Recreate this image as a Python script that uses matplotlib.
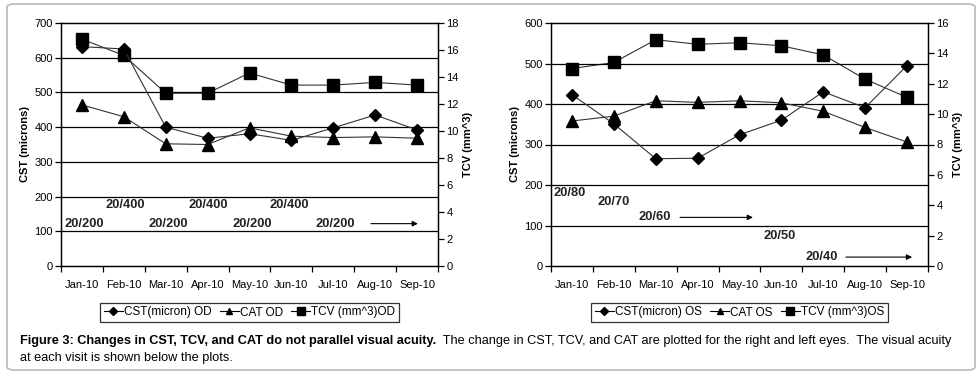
import matplotlib
matplotlib.use("Agg")
import matplotlib.pyplot as plt
from matplotlib.patches import FancyBboxPatch
from matplotlib.lines import Line2D

plt.rcParams['font.family'] = ['Liberation Sans', 'DejaVu Sans']

########################################
# ----> Data
########################################
months = ["Jan-10", "Feb-10", "Mar-10", "Apr-10", "May-10", "Jun-10", "Jul-10", "Aug-10", "Sep-10"]

# right eye (OD)
cst_od = [632, 625, 400, 368, 381, 362, 398, 435, 392]
cat_od = [464, 430, 352, 350, 398, 374, 370, 372, 368]
tcv_od = [16.8, 15.6, 12.8, 12.8, 14.3, 13.4, 13.4, 13.6, 13.4]

# left eye (OS)
cst_os = [423, 351, 265, 266, 324, 360, 430, 391, 495]
cat_os = [358, 370, 408, 404, 408, 403, 382, 342, 306]
tcv_os = [13.0, 13.4, 14.9, 14.6, 14.7, 14.5, 13.9, 12.3, 11.1]

# visual acuity labels shown below the plots
va_od = ["20/200", "20/400", "20/200", "20/400", "20/200", "20/400", "20/200"]
va_os = ["20/80", "20/70", "20/60", "20/50", "20/40"]

# label placement (category index, CST value) and arrows (start, end, CST value)
va_od_pos = [(0.06, 122), (1.04, 175), (2.07, 122), (3.02, 175), (4.06, 122), (4.95, 175), (6.05, 122)]
va_od_arrows = [(6.9, 8.02, 122)]
va_os_pos = [(-0.05, 181), (1.0, 158), (1.97, 120), (4.95, 73), (5.96, 22)]
va_os_arrows = [(2.58, 4.32, 120), (6.54, 8.12, 22)]

W, H = 980, 376
fig = plt.figure(figsize=(W / 100, H / 100), dpi=100)
fig.patch.set_facecolor("white")

# rounded frame round the whole figure
frame = FancyBboxPatch((7 / W, 1 - 370 / H), 968 / W, 366 / H,
                       boxstyle="round,pad=0,rounding_size=0.008",
                       transform=fig.transFigure, facecolor="none",
                       edgecolor="#b8b8b8", linewidth=1.2)
fig.patches.append(frame)

line_args = {"color": "#333333", "linewidth": 0.8}


def draw_chart(left, cst, cat, tcv, eye, ymax, tmax, va, va_pos, va_arrows):
	ax = fig.add_axes([left / W, 1 - 266 / H, 377 / W, 243 / H])
	ax2 = ax.twinx()
	x = list(range(len(months)))

	ax.plot(x, cst, marker="D", markersize=6.5, mfc="black", mec="black", zorder=5, **line_args)
	ax.plot(x, cat, marker="^", markersize=8.5, mfc="black", mec="black", zorder=5, **line_args)
	ax2.plot(x, tcv, marker="s", markersize=9, mfc="black", mec="black", zorder=5, **line_args)

	ax.set_xlim(-0.5, len(months) - 0.5)
	ax.set_ylim(0, ymax)
	ax2.set_ylim(0, tmax)
	ax.set_yticks(range(0, ymax + 1, 100))
	ax2.set_yticks(range(0, tmax + 1, 2))

	for yv in range(100, ymax, 100):
		ax.axhline(yv, color="black", linewidth=0.9, zorder=1)

	# boundaries carry the ticks, centers carry the labels
	ax.set_xticks([i - 0.5 for i in range(len(months) + 1)])
	ax.set_xticklabels([])
	ax.set_xticks(x, minor=True)
	ax.set_xticklabels(months, minor=True)
	ax.tick_params(axis="x", which="major", length=4, width=0.9, direction="out")
	ax.tick_params(axis="x", which="minor", length=0, pad=10, labelsize=8)
	ax.tick_params(axis="y", length=4, width=0.9, labelsize=8, pad=2)
	ax2.tick_params(axis="y", length=4, width=0.9, labelsize=8, pad=2)

	for a in (ax, ax2):
		for s in a.spines.values():
			s.set_linewidth(0.9)

	ax.set_ylabel("CST (microns)", fontsize=8, fontweight="bold", labelpad=3)
	ax2.set_ylabel("TCV (mm^3)", fontsize=8, fontweight="bold", labelpad=3)

	for label, (px, py) in zip(va, va_pos):
		ax.text(px, py, label, ha="center", va="center", fontsize=9.3, fontweight="bold", color="#222222")
	for (x0, x1, py) in va_arrows:
		ax.annotate("", xy=(x1, py), xytext=(x0, py),
		            arrowprops={"arrowstyle": "-|>", "color": "black", "lw": 0.8,
		                        "mutation_scale": 8, "shrinkA": 0, "shrinkB": 0})

	ax.set_zorder(ax2.get_zorder() + 1)
	ax.patch.set_visible(False)

	handles = [
		Line2D([], [], color="black", lw=0.8, marker="D", markersize=4, mfc="black"),
		Line2D([], [], color="black", lw=0.8, marker="^", markersize=5, mfc="black"),
		Line2D([], [], color="black", lw=0.8, marker="s", markersize=5.5, mfc="black"),
	]
	labels = ["CST(micron) " + eye, "CAT " + eye, "TCV (mm^3)" + eye]
	cx = (left + 36 + 305 / 2) / W
	leg = fig.legend(handles, labels, loc="center", bbox_to_anchor=(cx, 1 - 312.5 / H),
	                 ncol=3, fontsize=8.5, frameon=True, fancybox=False, edgecolor="black",
	                 handlelength=1.6, handletextpad=0.1, columnspacing=0.7,
	                 borderpad=0.3, borderaxespad=0)
	leg.get_frame().set_linewidth(0.9)
	return ax


draw_chart(61, cst_od, cat_od, tcv_od, "OD", 700, 18, va_od, va_od_pos, va_od_arrows)
draw_chart(551, cst_os, cat_os, tcv_os, "OS", 600, 16, va_os, va_os_pos, va_os_arrows)

########################################
# ----> Caption (bold start, then normal)
########################################
cap_size = 9.2
bold_part = "Figure 3: Changes in CST, TCV, and CAT do not parallel visual acuity."
rest_part = "  The change in CST, TCV, and CAT are plotted for the right and left eyes.  The visual acuity"
t1 = fig.text(20 / W, 1 - 341 / H, bold_part, fontsize=cap_size, fontweight="bold", va="center", ha="left")
renderer = fig.canvas.get_renderer()
bb = t1.get_window_extent(renderer=renderer)
fig.text(bb.x1 / W, 1 - 341 / H, rest_part, fontsize=cap_size, va="center", ha="left")
fig.text(20 / W, 1 - 358 / H, "at each visit is shown below the plots.", fontsize=cap_size, va="center", ha="left")

fig.savefig("out.png", dpi=100)
